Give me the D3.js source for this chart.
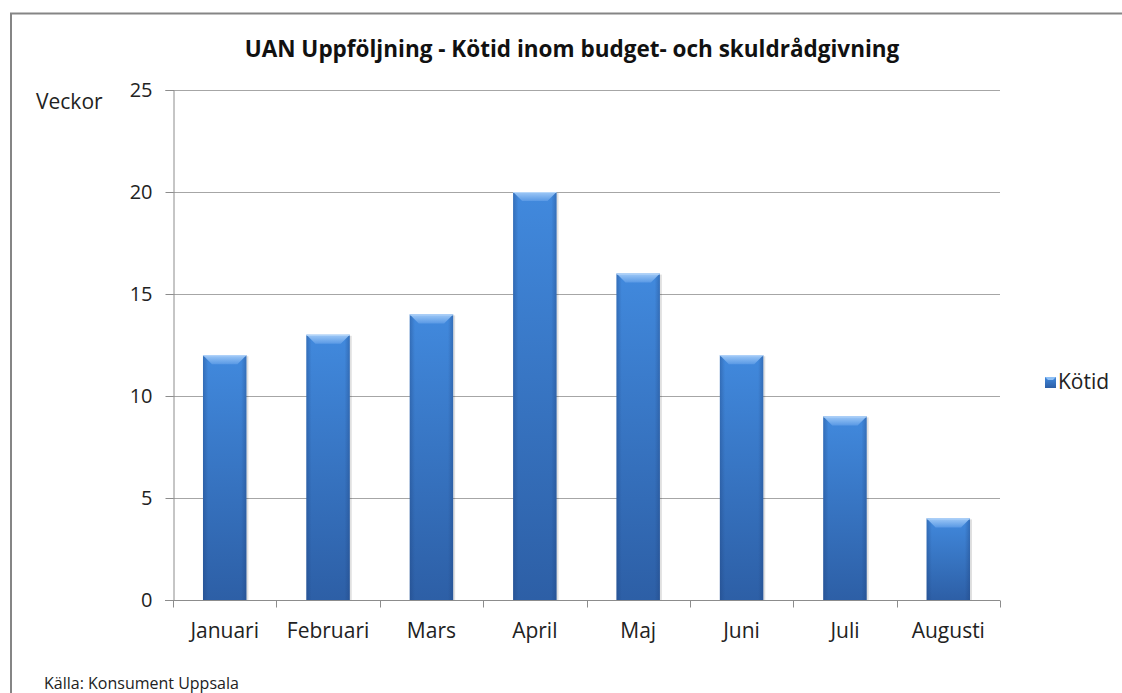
<!DOCTYPE html>
<html>
<head>
<meta charset="utf-8">
<script src="https://cdn.jsdelivr.net/npm/d3@7"></script>
<style>
  body { margin: 0; background: #fff; }
  svg { display: block; font-family: "Open Sans", sans-serif; }
</style>
</head>
<body>
<div class="figure"></div>
<script>
const months = ["Januari", "Februari", "Mars", "April", "Maj", "Juni", "Juli", "Augusti"]
const kotid = [12, 13, 14, 20, 16, 12, 9, 4]
const yTicks = [0, 5, 10, 15, 20, 25]

const width = 1122
const height = 693

const svg = d3.select(".figure").append("svg")
    .attr("width", width)
    .attr("height", height)

// bar gradient + bevel
const defs = svg.append("defs")
const grad = defs.append("linearGradient")
    .attr("id", "barGrad")
    .attr("x1", 0).attr("y1", 0).attr("x2", 0).attr("y2", 1)
grad.append("stop").attr("offset", "0%").attr("stop-color", "#4189dd")
grad.append("stop").attr("offset", "100%").attr("stop-color", "#2d5fa6")

const sideGrad = defs.append("linearGradient")
    .attr("id", "sideGrad")
    .attr("x1", 0).attr("y1", 0).attr("x2", 1).attr("y2", 0)
sideGrad.append("stop").attr("offset", "0%").attr("stop-color", "#1d3f78").attr("stop-opacity", 0.35)
sideGrad.append("stop").attr("offset", "12%").attr("stop-color", "#1d3f78").attr("stop-opacity", 0)
sideGrad.append("stop").attr("offset", "88%").attr("stop-color", "#1d3f78").attr("stop-opacity", 0)
sideGrad.append("stop").attr("offset", "100%").attr("stop-color", "#1d3f78").attr("stop-opacity", 0.35)

const bevelGrad = defs.append("linearGradient")
    .attr("id", "bevelGrad")
    .attr("x1", 0).attr("y1", 0).attr("x2", 0).attr("y2", 1)
bevelGrad.append("stop").attr("offset", "0%").attr("stop-color", "#a9d0fa")
bevelGrad.append("stop").attr("offset", "100%").attr("stop-color", "#5c9be6")

// chart border
svg.append("path")
    .attr("d", `M11,${height} L11,13.5 L${width},13.5`)
    .attr("fill", "none")
    .attr("stroke", "#858585")
    .attr("stroke-width", 2)

const x = d3.scaleBand().domain(months).range([173, 1000]).paddingInner(0.58).paddingOuter(0.29)
const y = d3.scaleLinear().domain([0, 25]).range([600, 90])

// gridlines
svg.append("g")
    .selectAll("line")
    .data(yTicks.filter(d => d > 0))
    .join("line")
    .attr("x1", 173).attr("x2", 1000)
    .attr("y1", d => Math.round(y(d)) + 0.5)
    .attr("y2", d => Math.round(y(d)) + 0.5)
    .attr("stroke", "#a6a6a6")
    .attr("stroke-width", 1)

// y axis
const yAxis = svg.append("g")
    .attr("transform", "translate(173.5,0)")
    .call(d3.axisLeft(y).tickValues(yTicks).tickSize(8).tickPadding(13))
yAxis.select(".domain").attr("stroke", "#8c8c8c")
yAxis.selectAll(".tick line").attr("stroke", "#8c8c8c")
yAxis.selectAll("text")
    .attr("font-size", 20)
    .attr("fill", "#222")
    .attr("font-family", "'Open Sans', sans-serif")

// x axis
const xAxis = svg.append("g").attr("transform", "translate(0,600.5)")
xAxis.append("line")
    .attr("x1", 165).attr("x2", 1000)
    .attr("stroke", "#8c8c8c")
xAxis.selectAll(".sep")
    .data(d3.range(months.length + 1))
    .join("line")
    .attr("class", "sep")
    .attr("x1", i => Math.round(173 + i * (827 / months.length)) + 0.5)
    .attr("x2", i => Math.round(173 + i * (827 / months.length)) + 0.5)
    .attr("y1", 0).attr("y2", 7)
    .attr("stroke", "#8c8c8c")
xAxis.selectAll("text")
    .data(months)
    .join("text")
    .attr("x", d => x(d) + x.bandwidth() / 2)
    .attr("y", 37)
    .attr("text-anchor", "middle")
    .attr("font-size", 21)
    .attr("fill", "#222")
    .text(d => d)

// bars
const bars = svg.append("g")
    .selectAll("g")
    .data(months.map((m, i) => ({ month: m, value: kotid[i] })))
    .join("g")

bars.append("rect")
    .attr("x", d => x(d.month) + 2)
    .attr("y", d => y(d.value) + 1)
    .attr("width", x.bandwidth())
    .attr("height", d => 600 - y(d.value) - 1)
    .attr("fill", "#000")
    .attr("opacity", 0.12)

bars.append("rect")
    .attr("x", d => x(d.month))
    .attr("y", d => y(d.value))
    .attr("width", x.bandwidth())
    .attr("height", d => 600 - y(d.value))
    .attr("fill", "url(#barGrad)")

bars.append("rect")
    .attr("x", d => x(d.month))
    .attr("y", d => y(d.value))
    .attr("width", x.bandwidth())
    .attr("height", d => 600 - y(d.value))
    .attr("fill", "url(#sideGrad)")

// top bevel
bars.append("path")
    .attr("d", d => {
        const x0 = x(d.month), x1 = x0 + x.bandwidth(), t = y(d.value)
        return `M${x0},${t} L${x1},${t} L${x1 - 9},${t + 9} L${x0 + 9},${t + 9} Z`
    })
    .attr("fill", "url(#bevelGrad)")
    .attr("opacity", 0.9)
bars.append("line")
    .attr("x1", d => x(d.month)).attr("x2", d => x(d.month) + x.bandwidth())
    .attr("y1", d => y(d.value) + 0.5).attr("y2", d => y(d.value) + 0.5)
    .attr("stroke", "#b5d6fa")

// title
svg.append("text")
    .attr("x", 572)
    .attr("y", 57)
    .attr("text-anchor", "middle")
    .attr("font-size", 22.5)
    .attr("font-weight", "bold")
    .attr("fill", "#111")
    .text("UAN Uppföljning - Kötid inom budget- och skuldrådgivning")

// y label
svg.append("text")
    .attr("x", 36)
    .attr("y", 109)
    .attr("font-size", 21)
    .attr("fill", "#222")
    .text("Veckor")

// legend
const legend = svg.append("g").attr("transform", "translate(1045,377)")
legend.append("rect")
    .attr("width", 11).attr("height", 11)
    .attr("fill", "url(#barGrad)")
legend.append("path")
    .attr("d", "M0,0 L11,0 L8,3 L3,3 Z")
    .attr("fill", "#8fc0f5")
legend.append("text")
    .attr("x", 13)
    .attr("y", 12)
    .attr("font-size", 21)
    .attr("fill", "#222")
    .text("Kötid")

// source
svg.append("text")
    .attr("x", 44)
    .attr("y", 689)
    .attr("font-size", 16)
    .attr("fill", "#222")
    .text("Källa: Konsument Uppsala")
</script>
</body>
</html>
